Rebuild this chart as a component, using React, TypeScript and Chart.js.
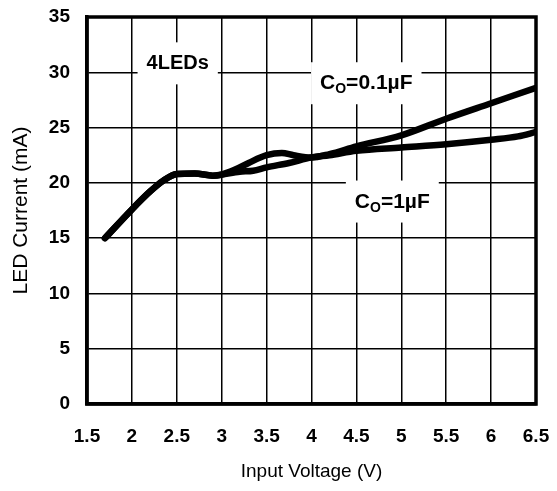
import { useEffect, useRef } from "react";
import { Chart, registerables } from "chart.js";

Chart.register(...registerables);

// ---- Data ----
const X_TICKS = [1.5, 2, 2.5, 3, 3.5, 4, 4.5, 5, 5.5, 6, 6.5];
const Y_TICKS = [0, 5, 10, 15, 20, 25, 30, 35];

const VOLT_01UF = [1.7, 2.0, 2.2, 2.35, 2.5, 2.7, 2.9, 3.0, 3.15, 3.3, 3.5, 3.67, 3.8, 4.0, 4.2, 4.5, 5.0, 5.5, 6.0, 6.5];
const CURR_01UF = [15, 17.6, 19.2, 20.2, 20.8, 20.85, 20.65, 20.75, 21.2, 21.8, 22.5, 22.7, 22.5, 22.3, 22.6, 23.3, 24.3, 25.8, 27.2, 28.6];

const VOLT_1UF = [1.7, 2.0, 2.2, 2.35, 2.5, 2.7, 2.9, 3.0, 3.2, 3.35, 3.5, 3.75, 4.0, 4.2, 4.5, 5.0, 5.5, 6.0, 6.3, 6.5];
const CURR_1UF = [15, 17.6, 19.2, 20.2, 20.8, 20.85, 20.65, 20.75, 21.0, 21.1, 21.4, 21.8, 22.3, 22.5, 22.9, 23.2, 23.5, 23.9, 24.2, 24.6];

// annotation texts: [main, subscript, rest], anchor (data units, text centre)
const NOTE_TEXTS = [
  ["4LEDs", "", ""],
  ["C", "O", "=0.1µF"],
  ["C", "O", "=1µF"],
];
const NOTE_X = [2.51, 4.61, 4.9];
const NOTE_Y = [30.9, 29.1, 18.4];

const FONT = "'Liberation Sans', Arial, Helvetica, sans-serif";

const framePlugin = {
  id: "frame",
  afterDatasetsDraw(chart: any) {
    const { ctx, chartArea } = chart;
    ctx.save();
    ctx.strokeStyle = "#000";
    ctx.lineWidth = 3.5;
    ctx.strokeRect(chartArea.left, chartArea.top, chartArea.right - chartArea.left, chartArea.bottom - chartArea.top);
    ctx.restore();
  },
};

const notesPlugin = {
  id: "notes",
  beforeDatasetsDraw(chart: any) {
    const { ctx } = chart;
    const xs = chart.scales.x;
    const ys = chart.scales.y;
    ctx.save();
    NOTE_TEXTS.forEach((parts, i) => {
      const [a, sub, b] = parts;
      const size = sub ? 21 : 20;
      const mainFont = `bold ${size}px ${FONT}`;
      const subFont = `bold 14px ${FONT}`;
      ctx.font = mainFont;
      const wa = ctx.measureText(a).width;
      const wb = ctx.measureText(b).width;
      ctx.font = subFont;
      const ws = sub ? ctx.measureText(sub).width : 0;
      const total = wa + ws + wb;
      const cx = xs.getPixelForValue(NOTE_X[i]);
      const cy = ys.getPixelForValue(NOTE_Y[i]);
      const x0 = cx - total / 2;
      ctx.fillStyle = "#fff";
      ctx.fillRect(x0 - 9, cy - 20, total + 18, 42);
      ctx.fillStyle = "#000";
      ctx.textBaseline = "alphabetic";
      ctx.textAlign = "left";
      const base = cy + 7;
      ctx.font = mainFont;
      ctx.fillText(a, x0, base);
      if (sub) {
        ctx.font = subFont;
        ctx.fillText(sub, x0 + wa, base + 4);
      }
      ctx.font = mainFont;
      ctx.fillText(b, x0 + wa + ws, base);
    });
    ctx.restore();
  },
};

const noScalePadding = (s: any) => {
  s.paddingLeft = 0;
  s.paddingRight = 0;
  s.paddingTop = 0;
  s.paddingBottom = 0;
};

export default function App() {
  const ref = useRef<HTMLCanvasElement>(null);
  useEffect(() => {
    const toPts = (xs: number[], ys: number[]) => xs.map((x, i) => ({ x, y: ys[i] }));
    const lineStyle = {
      borderColor: "#000",
      borderWidth: 6.5,
      pointRadius: 0,
      fill: false,
      cubicInterpolationMode: "monotone" as const,
      borderCapStyle: "round" as const,
      borderJoinStyle: "round" as const,
    };
    const chart = new Chart(ref.current!, {
      type: "line",
      data: {
        datasets: [
          { label: "CO=0.1µF", data: toPts(VOLT_01UF, CURR_01UF), ...lineStyle },
          { label: "CO=1µF", data: toPts(VOLT_1UF, CURR_1UF), ...lineStyle },
        ],
      },
      options: {
        responsive: false,
        animation: false,
        devicePixelRatio: 1,
        layout: { padding: { top: 17, right: 21, left: 0, bottom: 0 } },
        plugins: { legend: { display: false }, tooltip: { enabled: false } },
        scales: {
          x: {
            type: "linear",
            min: 1.5,
            max: 6.5,
            afterBuildTicks: (s: any) => {
              s.ticks = X_TICKS.map((v) => ({ value: v }));
            },
            afterFit: (s: any) => {
              s.height = 87;
              noScalePadding(s);
            },
            grid: { color: "#000", lineWidth: 1.5, drawTicks: false },
            border: { color: "#000", width: 3.5 },
            ticks: {
              color: "#000",
              padding: 21,
              maxRotation: 0,
              autoSkip: false,
              callback: (v: any) => String(v),
              font: { family: FONT, size: 19, weight: "bold" },
            },
            title: {
              display: true,
              text: "Input Voltage (V)",
              color: "#000",
              font: { family: FONT, size: 19 },
              padding: { top: 0, bottom: 8 },
            },
          },
          y: {
            type: "linear",
            min: 0,
            max: 35,
            afterBuildTicks: (s: any) => {
              s.ticks = Y_TICKS.map((v) => ({ value: v }));
            },
            afterFit: (s: any) => {
              s.width = 87;
              noScalePadding(s);
            },
            grid: { color: "#000", lineWidth: 1.5, drawTicks: false },
            border: { color: "#000", width: 3.5 },
            ticks: {
              color: "#000",
              padding: 17,
              autoSkip: false,
              callback: (v: any) => String(v),
              font: { family: FONT, size: 19, weight: "bold" },
            },
            title: {
              display: true,
              text: "LED Current (mA)",
              color: "#000",
              font: { family: FONT, size: 21 },
              padding: { top: 9, bottom: 0 },
            },
          },
        },
      },
      plugins: [notesPlugin, framePlugin],
    });
    return () => chart.destroy();
  }, []);
  return (
    <div style={{ position: "fixed", left: 0, top: 0, width: 557, height: 491, background: "#fff" }}>
      <canvas ref={ref} width={557} height={491} style={{ display: "block", width: 557, height: 491 }} />
    </div>
  );
}
